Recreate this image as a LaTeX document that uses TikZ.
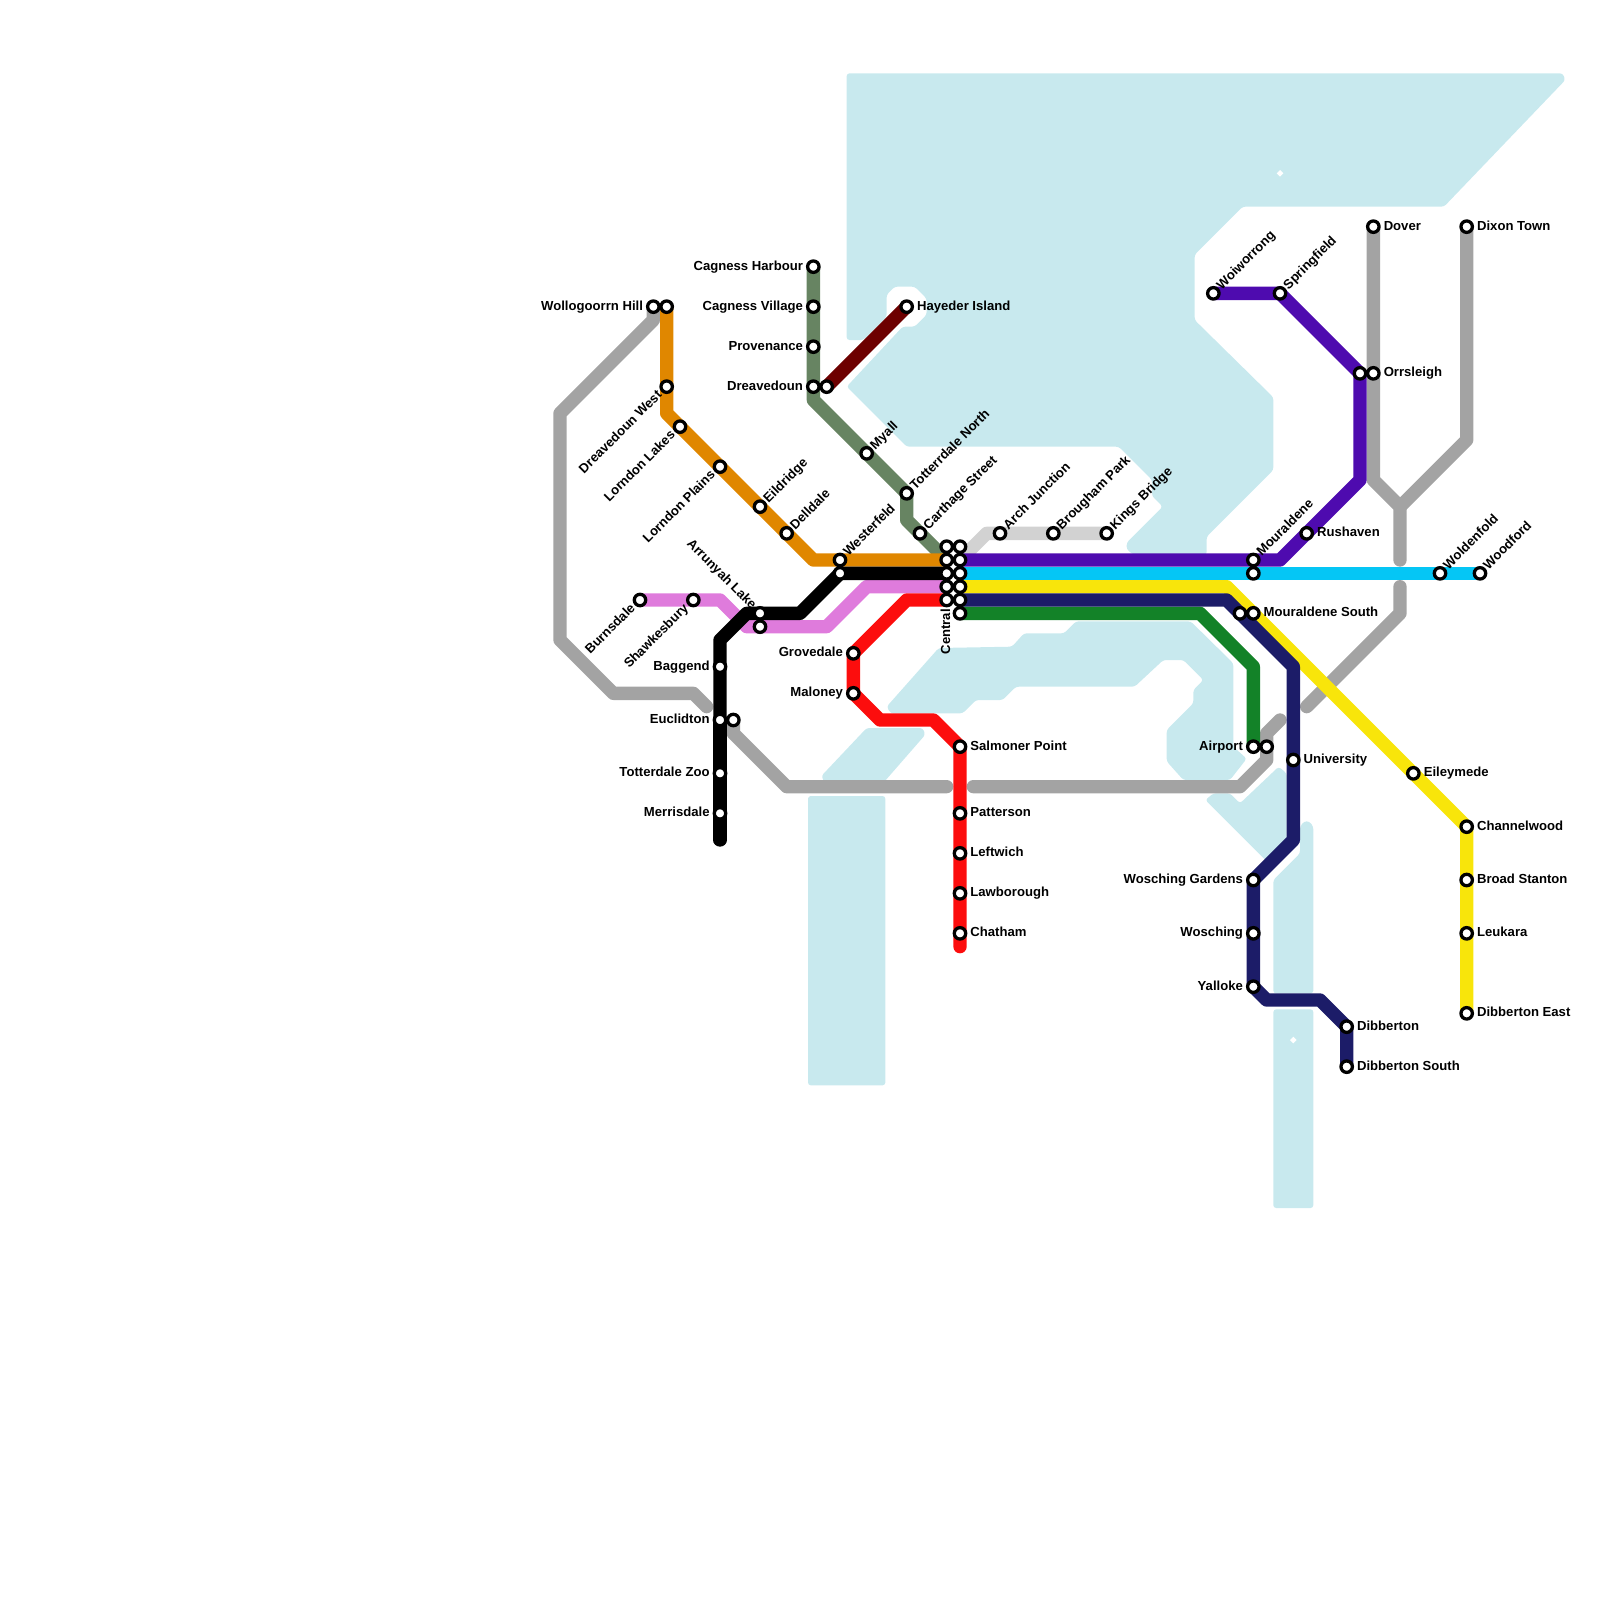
\documentclass[tikz,border=0pt]{standalone}
\usepackage{fontspec}
\setmainfont{Liberation Sans}
\usepackage{xcolor}
\definecolor{mywater}{HTML}{C8E9EE}
\definecolor{mygray}{HTML}{A3A3A3}
\definecolor{mylight}{HTML}{D2D2D2}
\definecolor{myolive}{HTML}{678462}
\definecolor{mymaroon}{HTML}{6D0000}
\definecolor{myorange}{HTML}{E08700}
\definecolor{mypink}{HTML}{DF7BDC}
\definecolor{myred}{HTML}{FC0D0D}
\definecolor{mypurple}{HTML}{4E0BAF}
\definecolor{mycyan}{HTML}{05C6F5}
\definecolor{myyellow}{HTML}{F8E50B}
\definecolor{mynavy}{HTML}{1C1C68}
\definecolor{mygreen}{HTML}{138228}
\pgfdeclarelayer{bg}
\pgfsetlayers{bg,main}
\tikzset{
  water/.style={fill=mywater, rounded corners=3pt},
  island/.style={fill=white},
  metro/.style={line width=0.5cm, line cap=round, line join=round},
  stn/.style={circle, draw=black, fill=white, line width=3.5pt, minimum size=12.2pt, inner sep=0pt},
  lab/.style={font=\bfseries\fontsize{14}{16}\selectfont, inner sep=0pt, text height=1.7ex, text depth=0.3ex},
  labR/.style={lab, anchor=west, xshift=10.9pt},
  labL/.style={lab, anchor=east, xshift=-10.9pt},
  labNE/.style={lab, shift={(6.4pt,6pt)}, rotate=45, anchor=west},
  labSW/.style={lab, shift={(-7pt,-7pt)}, rotate=45, anchor=east},
  labNW/.style={lab, shift={(-6.5pt,6.5pt)}, rotate=-45, anchor=east},
  labS/.style={lab, yshift=-9.5pt, rotate=90, anchor=east},
}
\newcommand{\station}[5]{
  \node[stn] (#1) at (#2,#3) {};
  \node[#4] (#1-t) at (#1) {#5};
}
\begin{document}
\begin{tikzpicture}[x=0.5cm, y=-0.5cm]
\useasboundingbox (0,0) rectangle (120,120);

\station{wollogoorrn}{49}{23}{labL}{Wollogoorrn Hill}
\node[stn] (orangetop) at (50,23) {};
\station{dreavedounwest}{50}{29}{labSW}{Dreavedoun West}
\station{lorndonlakes}{51}{32}{labSW}{Lorndon Lakes}
\station{lorndonplains}{54}{35}{labSW}{Lorndon Plains}
\station{eildridge}{57}{38}{labNE}{Eildridge}
\station{delldale}{59}{40}{labNE}{Delldale}
\station{westerfeld}{63}{42}{labNE}{Westerfeld}
\node[stn] (blackeast) at (63,43) {};
\station{cagnessharbour}{61}{20}{labL}{Cagness Harbour}
\station{cagnessvillage}{61}{23}{labL}{Cagness Village}
\station{provenance}{61}{26}{labL}{Provenance}
\station{dreavedoun}{61}{29}{labL}{Dreavedoun}
\node[stn] (maroonend) at (62,29) {};
\station{hayeder}{68}{23}{labR}{Hayeder Island}
\station{myall}{65}{34}{labNE}{Myall}
\station{totterrdalenorth}{68}{37}{labNE}{Totterrdale North}
\station{carthage}{69}{40}{labNE}{Carthage Street}
\station{archjunction}{75}{40}{labNE}{Arch Junction}
\station{brougham}{79}{40}{labNE}{Brougham Park}
\station{kingsbridge}{83}{40}{labNE}{Kings Bridge}
\station{burnsdale}{48}{45}{labSW}{Burnsdale}
\station{shawkesbury}{52}{45}{labSW}{Shawkesbury}
\station{arrunyah}{57}{46}{labNW}{Arrunyah Lake}
\node[stn] (pinkmid) at (57,47) {};
\station{baggend}{54}{50}{labL}{Baggend}
\station{euclidton}{54}{54}{labL}{Euclidton}
\node[stn] (grayeuclid) at (55,54) {};
\station{totterdalezoo}{54}{58}{labL}{Totterdale Zoo}
\station{merrisdale}{54}{61}{labL}{Merrisdale}
\station{grovedale}{64}{49}{labL}{Grovedale}
\station{maloney}{64}{52}{labL}{Maloney}
\station{salmoner}{72}{56}{labR}{Salmoner Point}
\station{patterson}{72}{61}{labR}{Patterson}
\station{leftwich}{72}{64}{labR}{Leftwich}
\station{lawborough}{72}{67}{labR}{Lawborough}
\station{chatham}{72}{70}{labR}{Chatham}
\node[stn] (centrala) at (71,41) {};
\node[stn] (centralb) at (71,42) {};
\node[stn] (centralc) at (71,43) {};
\node[stn] (centrald) at (71,44) {};
\station{centrale}{71}{45}{labS}{Central}
\node[stn] (centralf) at (72,41) {};
\node[stn] (centralg) at (72,42) {};
\node[stn] (centralh) at (72,43) {};
\node[stn] (centrali) at (72,44) {};
\node[stn] (centralj) at (72,45) {};
\node[stn] (centralk) at (72,46) {};
\station{woiworrong}{91}{22}{labNE}{Woiworrong}
\station{springfield}{96}{22}{labNE}{Springfield}
\node[stn] (purplenorth) at (102,28) {};
\station{orrsleigh}{103}{28}{labR}{Orrsleigh}
\station{dover}{103}{17}{labR}{Dover}
\station{dixontown}{110}{17}{labR}{Dixon Town}
\station{rushaven}{98}{40}{labR}{Rushaven}
\station{mouraldene}{94}{42}{labNE}{Mouraldene}
\node[stn] (cyanmoura) at (94,43) {};
\node[stn] (navymoura) at (93,46) {};
\station{mouraldenesouth}{94}{46}{labR}{Mouraldene South}
\station{woldenfold}{108}{43}{labNE}{Woldenfold}
\station{woodford}{111}{43}{labNE}{Woodford}
\station{eileymede}{106}{58}{labR}{Eileymede}
\station{channelwood}{110}{62}{labR}{Channelwood}
\station{broadstanton}{110}{66}{labR}{Broad Stanton}
\station{leukara}{110}{70}{labR}{Leukara}
\station{dibbertoneast}{110}{76}{labR}{Dibberton East}
\station{airport}{94}{56}{labL}{Airport}
\node[stn] (grayairport) at (95,56) {};
\station{university}{97}{57}{labR}{University}
\station{woschinggardens}{94}{66}{labL}{Wosching Gardens}
\station{wosching}{94}{70}{labL}{Wosching}
\station{yalloke}{94}{74}{labL}{Yalloke}
\station{dibberton}{101}{77}{labR}{Dibberton}
\station{dibbertonsouth}{101}{80}{labR}{Dibberton South}

\begin{pgfonlayer}{bg}
\fill[water] (63.5,5.5) -- (117.2,5.5) -- (117.4,6) -- (108.3,15.5) -- (93.2,15.5) -- (89.6,19.1) -- (89.6,24) -- (95.5,29.8) -- (95.5,35.25) -- (90.5,40.25) -- (90.5,41.6) -- (85,41.6) -- (84.5,41.2) -- (84.5,40.7) -- (87.2,38) -- (86.4,37.2) -- (86.4,36) -- (83.9,33.5) -- (68,33.5) -- (63.5,29) -- (67.7,24.5) -- (68.6,24.5) -- (69.5,23.6) -- (69.5,22.4) -- (68.6,21.5) -- (67.1,21.5) -- (66.5,22.1) -- (66.5,23.75) -- (64.75,25.5) -- (63.5,25.5) -- cycle;
\fill[water] (60.6,59.7) rectangle (66.4,81.4);
\fill[water] (61.6,58.2) -- (65,54.6) -- (69.2,54.6) -- (69.4,55.1) -- (66,59) -- (62,59) -- cycle;
\fill[water] (66.5,53) -- (70.4,48.6) -- (75.9,48.5) -- (76.8,47.5) -- (79.8,47.5) -- (80.7,46.6) -- (89.3,46.6) -- (92.5,49.75) -- (92.5,56) -- (93.5,56.9) -- (92.25,58.5) -- (88.75,58.5) -- (87.5,57.1) -- (87.5,54.75) -- (89.5,52.75) -- (89.5,51.75) -- (90.25,51) -- (88.75,49.5) -- (87.25,49.5) -- (85.1,51.5) -- (76.2,51.5) -- (75.2,52.5) -- (73.2,52.5) -- (72.2,53.5) -- (66.8,53.5) -- cycle;
\fill[water] (90.4,60) -- (91,59.5) -- (92.25,59.5) -- (93,60.25) -- (95.9,57.5) -- (96.5,58) -- (96.5,63) -- (95.2,64.8) -- cycle;
\fill[water] (95.5,66) -- (97.5,64) -- (97.5,62) -- (97.8,61.6) -- (98.2,61.6) -- (98.5,62) -- (98.5,74.5) -- (95.5,74.5) -- cycle;
\fill[water] (95.5,75.7) rectangle (98.5,90.6);
\fill[island] (96,12.75) -- (96.25,13) -- (96,13.25) -- (95.75,13) -- cycle;
\fill[island] (97,77.75) -- (97.25,78) -- (97,78.25) -- (96.75,78) -- cycle;

\draw[metro, mylight] (centralg.center) -- (74,40) -- (kingsbridge.center);
\draw[metro, mygray] (wollogoorrn.center) -- (49,24) -- (42,31) -- (42,48) -- (46,52) -- (52,52) -- (53,53);
\draw[metro, mygray] (grayeuclid.center) -- (55,55) -- (59,59) -- (71,59);
\draw[metro, mygray] (73,59) -- (93,59) -- (95,57) -- (grayairport.center) -- (95,55) -- (96,54);
\draw[metro, mygray] (98,53) -- (105,46) -- (105,44);
\draw[metro, mygray] (105,42) -- (105,38) -- (103,36) -- (dover.center);
\draw[metro, mygray] (105,38) -- (110,33) -- (dixontown.center);
\draw[metro, myolive] (cagnessharbour.center) -- (dreavedoun.center) -- (61,30) -- (totterrdalenorth.center) -- (68,39) -- (centralb.center);
\draw[metro, mymaroon] (maroonend.center) -- (hayeder.center);
\draw[metro, myorange] (orangetop.center) -- (50,31) -- (61,42) -- (centralb.center);
\draw[metro, mypink] (burnsdale.center) -- (54,45) -- (56,47) -- (62,47) -- (65,44) -- (centrald.center);
\draw[metro, black] (euclidton.center) -- (54,48) -- (56,46) -- (60,46) -- (blackeast.center) -- (centralc.center);
\draw[metro, black] (euclidton.center) -- (54,63);
\draw[metro, myred] (centrale.center) -- (68,45) -- (grovedale.center) -- (maloney.center) -- (66,54) -- (70,54) -- (salmoner.center) -- (72,71);
\draw[metro, mypurple] (centralg.center) -- (96,42) -- (102,36) -- (purplenorth.center) -- (springfield.center) -- (woiworrong.center);
\draw[metro, mycyan] (centralh.center) -- (woodford.center);
\draw[metro, myyellow] (centrali.center) -- (92,44) -- (channelwood.center) -- (dibbertoneast.center);
\draw[metro, mygreen] (centralk.center) -- (90,46) -- (94,50) -- (airport.center);
\draw[metro, mynavy] (centralj.center) -- (92,45) -- (97,50) -- (97,63) -- (woschinggardens.center) -- (yalloke.center) -- (95,75) -- (99,75) -- (dibberton.center) -- (dibbertonsouth.center);
\end{pgfonlayer}
\end{tikzpicture}
\end{document}
